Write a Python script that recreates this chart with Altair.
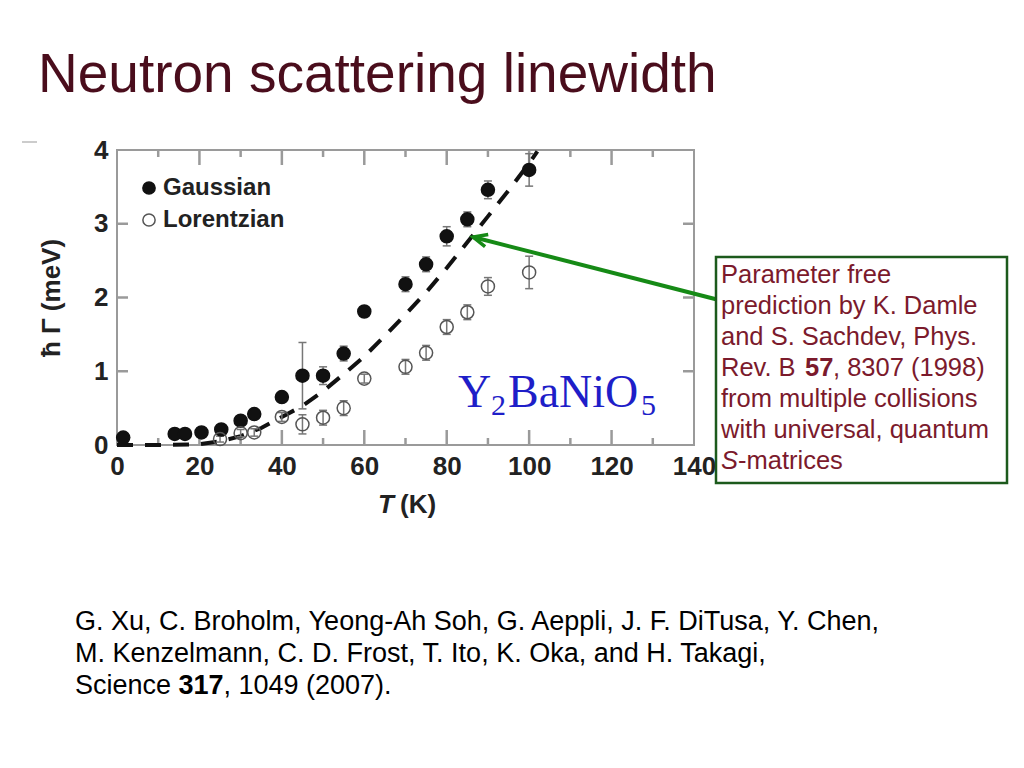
import altair as alt
import pandas as pd

# ---------------- data ----------------
g_T = [1.5, 14, 16.5, 20.5, 25.3, 30, 33.3, 40, 45, 50, 55, 60, 70, 75, 80, 85, 90, 100]
g_val = [0.10, 0.15, 0.15, 0.17, 0.21, 0.33, 0.42, 0.65, 0.94, 0.94, 1.24, 1.81, 2.18, 2.45, 2.83, 3.06, 3.46, 3.73]
g_err = [0.03, 0.03, 0.03, 0.03, 0.04, 0.05, 0.05, 0.05, 0.45, 0.12, 0.10, 0.06, 0.10, 0.10, 0.13, 0.10, 0.12, 0.22]

l_T = [25, 30, 33.3, 40, 45, 50, 55, 60, 70, 75, 80, 85, 90, 100]
l_val = [0.08, 0.16, 0.17, 0.38, 0.28, 0.37, 0.50, 0.90, 1.06, 1.25, 1.60, 1.80, 2.15, 2.34]
l_err = [0.04, 0.05, 0.05, 0.06, 0.13, 0.10, 0.10, 0.06, 0.10, 0.10, 0.10, 0.10, 0.12, 0.22]

th_T = [0, 10, 20, 25, 30, 35, 40, 45, 50, 55, 60, 65, 70, 75, 80, 85, 90, 95, 100, 102]
th_G = [0, 0, 0.01, 0.05, 0.12, 0.23, 0.38, 0.53, 0.73, 0.96, 1.20, 1.48, 1.77, 2.07, 2.40, 2.75, 3.10, 3.45, 3.82, 3.98]

x_ticks = [0, 20, 40, 60, 80, 100, 120, 140]
x_major_in = [20, 40, 60, 80, 100, 120]
x_minor_in = [10, 30, 50, 70, 90, 110, 130]
y_ticks = [0, 1, 2, 3, 4]
y_in = [1, 2, 3]

arrow_T = [86.4, 145.8]   # tip, tail (T in K)
arrow_G = [2.82, 1.97]    # tip, tail (meV)

series_names = ["Gaussian", "Lorentzian"]

title_text = "Neutron scattering linewidth"
y_title = "ħ Γ (meV)"
note_lines = ["Parameter free", "prediction by K. Damle", "and S. Sachdev, Phys.",
              "Rev. B ", "57", ", 8307 (1998)",
              "from multiple collisions", "with universal, quantum", "S", "-matrices"]
cite_lines = ["G. Xu, C. Broholm, Yeong-Ah Soh, G. Aeppli, J. F. DiTusa, Y. Chen,",
              "M. Kenzelmann, C. D. Frost, T. Ito, K. Oka, and H. Takagi,",
              "Science ", "317", ", 1049 (2007)."]

# ---------------- frames ----------------
W, H = 577, 295
FONT = "Liberation Sans"

rows = []
for t, v, e in zip(g_T, g_val, g_err):
    rows.append({"series": "Gaussian", "T": t, "val": v, "lo": v - e, "hi": v + e})
for t, v, e in zip(l_T, l_val, l_err):
    rows.append({"series": "Lorentzian", "T": t, "val": v, "lo": v - e, "hi": v + e})
pts = pd.DataFrame(rows)
theory = pd.DataFrame({"T": th_T, "G": th_G})
arrow = pd.DataFrame({"T": [arrow_T[0]], "G": [arrow_G[0]], "T2": [arrow_T[1]], "G2": [arrow_G[1]]})
one = pd.DataFrame({"a": [0]})

xs = alt.Scale(domain=[0, 140], nice=False, zero=False)
ys = alt.Scale(domain=[0, 4], nice=False)
x_axis = alt.Axis(values=x_ticks, title=None, labelFontSize=26, labelFontWeight="bold",
                  labelColor="#222222", labelFont=FONT, tickSize=0, domain=False, grid=False,
                  labelPadding=8, labelFlush=False)
y_axis = alt.Axis(values=y_ticks, title=y_title, labelFontSize=26, labelFontWeight="bold",
                  labelColor="#222222", labelFont=FONT, tickSize=0, domain=False, grid=False,
                  labelPadding=9, titleFontSize=26, titleFontWeight="bold", titleColor="#222222",
                  titleFont=FONT, titlePadding=29)


def X(f):
    return alt.X(f, type="quantitative", scale=xs, axis=x_axis)


def Y(f):
    return alt.Y(f, type="quantitative", scale=ys, axis=y_axis)


def txt(s, x, y, size, color="#000000", weight="normal", style="normal", font=FONT):
    return alt.Chart(one).mark_text(text=s, fontSize=size, font=font, fontWeight=weight,
                                    fontStyle=style, color=color, align="left",
                                    baseline="alphabetic").encode(x=alt.value(x), y=alt.value(y))


TICK_C = "#9a9a9a"
ticks = []
for vals, y0, y1 in [(x_major_in, H, H - 15), (x_minor_in, H, H - 7),
                     (x_major_in, 0, 15), (x_minor_in, 0, 7)]:
    ticks.append(alt.Chart(pd.DataFrame({"t": vals})).mark_rule(color=TICK_C, strokeWidth=2.5)
                 .encode(x=X("t"), y=alt.value(y0), y2=alt.value(y1)))
for x0, x1 in [(0, 11), (W, W - 11)]:
    ticks.append(alt.Chart(pd.DataFrame({"v": y_in})).mark_rule(color=TICK_C, strokeWidth=2.5)
                 .encode(y=Y("v"), x=alt.value(x0), x2=alt.value(x1)))

line = alt.Chart(theory).mark_line(color="#111111", strokeWidth=4, strokeDash=[16, 12]).encode(
    x=X("T"), y=Y("G"))

ebar = alt.Chart(pts).mark_rule(color="#777777", strokeWidth=1.5).encode(x=X("T"), y=Y("lo"), y2="hi")
cap_lo = alt.Chart(pts).mark_point(shape="stroke", size=64, strokeWidth=1.5, color="#777777",
                                   opacity=1).encode(x=X("T"), y=Y("lo"))
cap_hi = alt.Chart(pts).mark_point(shape="stroke", size=64, strokeWidth=1.5, color="#777777",
                                   opacity=1).encode(x=X("T"), y=Y("hi"))

leg = dict(orient="none", legendX=20, legendY=26, title=None, labelFontSize=24,
           labelFontWeight="bold", labelFont=FONT, labelColor="#222222", symbolSize=150,
           labelOffset=2, rowPadding=8, padding=0, symbolStrokeWidth=1.5, symbolType="circle")
points = alt.Chart(pts).mark_point(shape="circle", size=170, strokeWidth=1.5, opacity=1).encode(
    x=X("T"), y=Y("val"),
    fill=alt.Fill("series:N", scale=alt.Scale(domain=series_names, range=["#111111", "transparent"]),
                  legend=alt.Legend(**leg)),
    stroke=alt.Stroke("series:N", scale=alt.Scale(domain=series_names, range=["#111111", "#555555"]),
                      legend=alt.Legend(**leg)),
)

GREEN = "#168A16"
arrow_line = alt.Chart(arrow).mark_rule(color=GREEN, strokeWidth=4).encode(
    x=X("T"), y=Y("G"), x2="T2", y2="G2")
arrow_head = alt.Chart(arrow).mark_point(shape="M 1 -0.45 L 0 0 L 1 0.45", size=784, angle=14.4,
                                         filled=False, stroke=GREEN, strokeWidth=3.5,
                                         opacity=1).encode(x=X("T"), y=Y("G"))

box = alt.Chart(one).mark_rect(fill="white", stroke="#1C5A1C", strokeWidth=2.5).encode(
    x=alt.value(599), x2=alt.value(890), y=alt.value(107), y2=alt.value(333))

NOTE_C = "#7B1A2C"
NS = 25.5
CS = 27
texts = [
    txt(title_text, -79, -58, 55, "#4A0D1C"),
    txt(note_lines[0], 604, 133, NS, NOTE_C),
    txt(note_lines[1], 604, 164, NS, NOTE_C),
    txt(note_lines[2], 604, 195, NS, NOTE_C),
    txt(note_lines[3], 604, 226, NS, NOTE_C),
    txt(note_lines[4], 688, 226, NS, NOTE_C, weight="bold"),
    txt(note_lines[5], 716, 226, NS, NOTE_C),
    txt(note_lines[6], 604, 257, NS, NOTE_C),
    txt(note_lines[7], 604, 288, NS, NOTE_C),
    txt(note_lines[8], 604, 319, NS, NOTE_C, style="italic"),
    txt(note_lines[9], 621, 319, NS, NOTE_C),
    txt(cite_lines[0], -42, 480, CS),
    txt(cite_lines[1], -42, 512, CS),
    txt(cite_lines[2], -42, 544, CS),
    txt(cite_lines[3], 61.5, 544, CS, weight="bold"),
    txt(cite_lines[4], 106.5, 544, CS),
    txt("T", 261, 363, 26, "#222222", weight="bold", style="italic"),
    txt("(K)", 283, 363, 26, "#222222", weight="bold"),
    txt("Y", 341, 257, 46, "#1E1EC8", font="Liberation Serif"),
    txt("2", 374, 265, 30, "#1E1EC8", font="Liberation Serif"),
    txt("BaNiO", 391, 257, 46, "#1E1EC8", font="Liberation Serif"),
    txt("5", 524, 265, 30, "#1E1EC8", font="Liberation Serif"),
]

dash = alt.Chart(one).mark_rule(color="#999999", strokeWidth=1).encode(
    x=alt.value(-95), x2=alt.value(-80), y=alt.value(-8))

chart = alt.layer(*ticks, line, ebar, cap_lo, cap_hi, points, arrow_line, arrow_head, box,
                  *texts, dash).properties(
    width=W, height=H,
    autosize=alt.AutoSizeParams(type="none"),
    padding={"left": 109, "top": 142, "right": 315, "bottom": 300},
    background="white",
).configure_view(stroke="#9a9a9a", strokeWidth=2)

chart.save("out.html", embed_options={"renderer": "svg", "actions": False})
